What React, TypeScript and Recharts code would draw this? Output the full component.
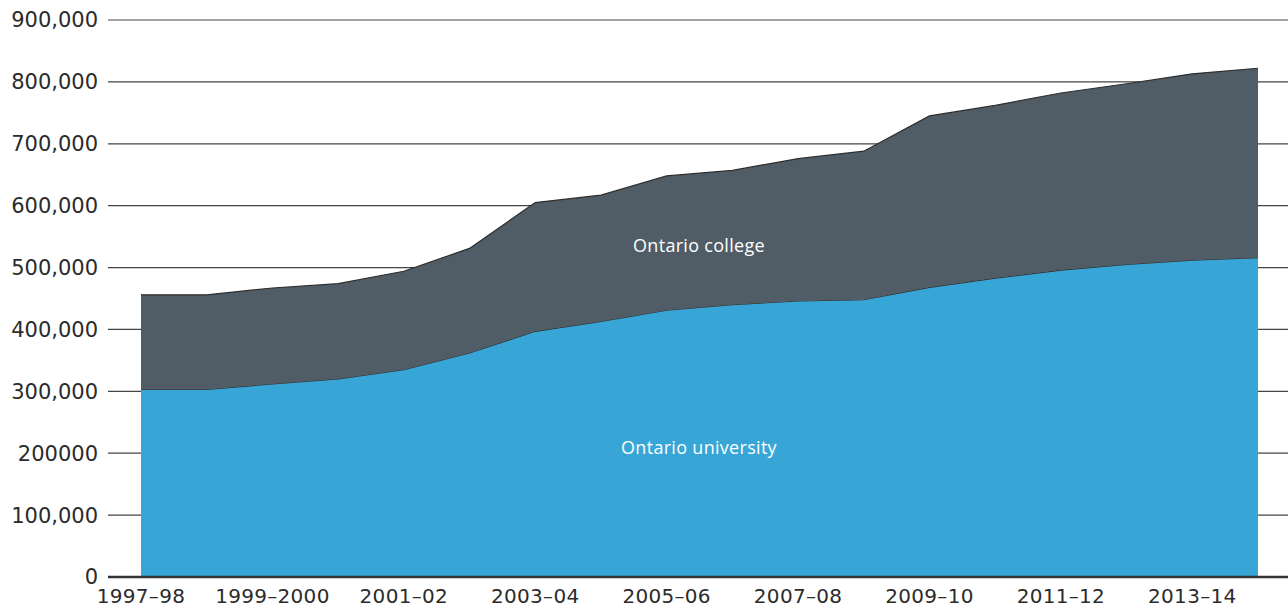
import { AreaChart, Area, XAxis, YAxis, CartesianGrid } from 'recharts';

const years = [
    '1997–98', '1998–99', '1999–2000', '2000–01', '2001–02', '2002–03',
    '2003–04', '2004–05', '2005–06', '2006–07', '2007–08', '2008–09',
    '2009–10', '2010–11', '2011–12', '2012–13', '2013–14', '2014–15',
];

const university = [
    303000, 303000, 312000, 320000, 335000, 362000,
    397000, 413000, 431000, 440000, 446000, 448000,
    468000, 483000, 496000, 505000, 512000, 516000,
];

const college = [
    153000, 153000, 155000, 154000, 159000, 169000,
    208000, 204000, 217000, 217000, 230000, 240000,
    277000, 279000, 286000, 292000, 301000, 306000,
];

const yTicks = [0, 100000, 200000, 300000, 400000, 500000, 600000, 700000, 800000, 900000];
const yTickLabels = ['0', '100,000', '200000', '300,000', '400,000', '500,000', '600,000', '700,000', '800,000', '900,000'];

const seriesNames = ['Ontario university', 'Ontario college'];

const data = years.map((year, i) => ({
    year,
    university: university[i],
    college: college[i],
}));

const FONT = '"DejaVu Sans", sans-serif';

const labelStyle: React.CSSProperties = {
    position: 'absolute',
    left: 0,
    width: 1398,
    textAlign: 'center',
    color: '#ffffff',
    fontFamily: '"Open Sans", sans-serif',
    fontSize: 18,
    lineHeight: '24px',
    letterSpacing: 0.3,
    pointerEvents: 'none',
};

export default function App() {
    return (
        <div style={{ position: 'absolute', left: 0, top: 0, width: 1288, height: 608, background: '#fff' }}>
            <AreaChart
                width={1288}
                height={608}
                data={data}
                margin={{ top: 20, right: 0, bottom: 0, left: 0 }}
            >
                <CartesianGrid vertical={false} stroke="#444" strokeWidth={1.2} />
                <XAxis
                    dataKey="year"
                    interval={1}
                    padding={{ left: 33, right: 30 }}
                    axisLine={{ stroke: '#333', strokeWidth: 2.5 }}
                    tickLine={false}
                    tickSize={0}
                    tickMargin={12}
                    height={31}
                    tick={{ fill: '#2b2b2b', fontSize: 20, fontFamily: FONT, letterSpacing: 0.3 }}
                />
                <YAxis
                    domain={[0, 900000]}
                    ticks={yTicks}
                    tickFormatter={(v: number) => yTickLabels[yTicks.indexOf(v)]}
                    axisLine={false}
                    tickLine={false}
                    tickSize={0}
                    tickMargin={10}
                    width={108}
                    tick={{ fill: '#2b2b2b', fontSize: 21, fontFamily: FONT }}
                />
                <Area
                    type="linear"
                    dataKey="university"
                    name={seriesNames[0]}
                    stackId="1"
                    stroke="#2d2d2d"
                    strokeWidth={1.2}
                    fill="#37a6d6"
                    fillOpacity={1}
                    isAnimationActive={false}
                />
                <Area
                    type="linear"
                    dataKey="college"
                    name={seriesNames[1]}
                    stackId="1"
                    stroke="#2d2d2d"
                    strokeWidth={1.2}
                    fill="#505d66"
                    fillOpacity={1}
                    isAnimationActive={false}
                />
            </AreaChart>
            <div style={{ ...labelStyle, top: 233 }}>{seriesNames[1]}</div>
            <div style={{ ...labelStyle, top: 435 }}>{seriesNames[0]}</div>
        </div>
    );
}
